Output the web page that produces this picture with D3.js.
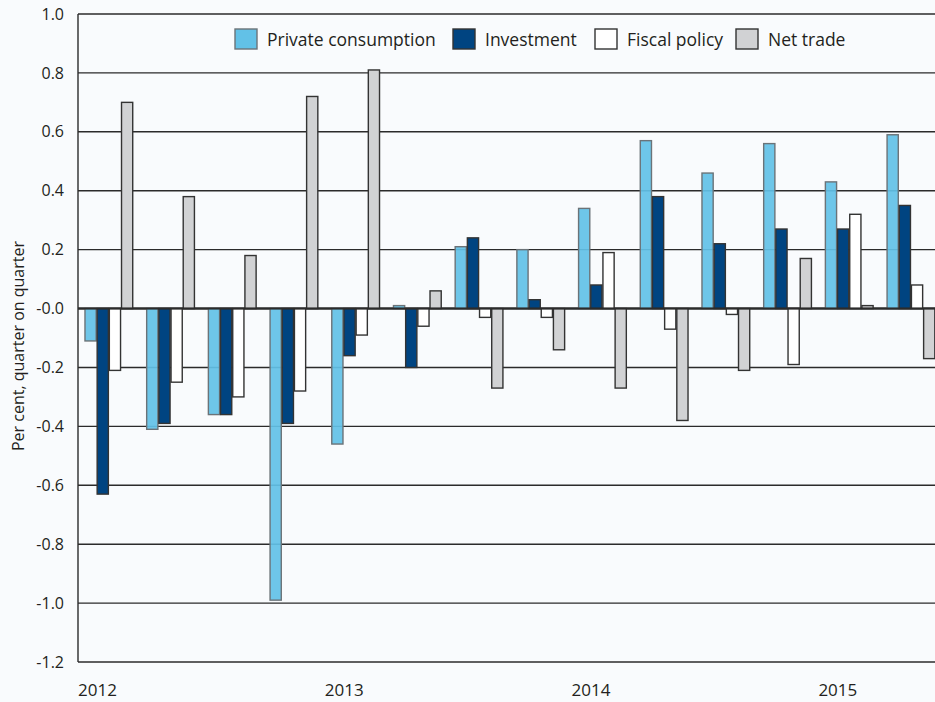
<!DOCTYPE html>
<html>
<head>
<meta charset="utf-8">
<script src="https://cdn.jsdelivr.net/npm/d3@7"></script>
<style>
  html, body { margin: 0; padding: 0; background: #f9fbfd; }
  svg { display: block; font-family: "Open Sans", "Noto Sans", sans-serif; }
</style>
</head>
<body>
<div id="app"></div>
<script>
// DATA
const quarters = ['2012Q1', '2012Q2', '2012Q3', '2012Q4',
                  '2013Q1', '2013Q2', '2013Q3', '2013Q4',
                  '2014Q1', '2014Q2', '2014Q3', '2014Q4',
                  '2015Q1', '2015Q2'];
const seriesNames = ['Private consumption', 'Investment', 'Fiscal policy', 'Net trade'];
const privateConsumption = [-0.11, -0.41, -0.36, -0.99, -0.46, 0.01, 0.21, 0.20, 0.34, 0.57, 0.46, 0.56, 0.43, 0.59];
const investment         = [-0.63, -0.39, -0.36, -0.39, -0.16, -0.20, 0.24, 0.03, 0.08, 0.38, 0.22, 0.27, 0.27, 0.35];
const fiscalPolicy       = [-0.21, -0.25, -0.30, -0.28, -0.09, -0.06, -0.03, -0.03, 0.19, -0.07, -0.02, -0.19, 0.32, 0.08];
const netTrade           = [0.70, 0.38, 0.18, 0.72, 0.81, 0.06, -0.27, -0.14, -0.27, -0.38, -0.21, 0.17, 0.01, -0.17];
const yearLabels = ['2012', '2013', '2014', '2015'];
const yTicks = [1.0, 0.8, 0.6, 0.4, 0.2, 0, -0.2, -0.4, -0.6, -0.8, -1.0, -1.2];

const allSeries = [privateConsumption, investment, fiscalPolicy, netTrade];
const fills   = ['#62c1e7', '#004481', '#ffffff', '#d1d2d4'];
const strokes = ['#6b7378', '#333333', '#333333', '#333333'];

// LAYOUT
const W = 935, H = 702;
const plotLeft = 78, plotTop = 14, plotBottom = 662;
const step = 61.7;

const $svg = d3.select('#app')
  .append('svg')
  .attr('width', W)
  .attr('height', H);

$svg.append('rect').attr('width', W).attr('height', H).attr('fill', '#f9fbfd');

const y = d3.scaleLinear().domain([-1.2, 1.0]).range([plotBottom, plotTop]);
const x = d3.scaleBand().domain(quarters).range([plotLeft, plotLeft + step * quarters.length]).paddingInner(0).paddingOuter(0);
const xInner = d3.scaleBand().domain(seriesNames).range([6, step - 6]).padding(0.08);

const fmt = d => d === 0 ? '-0.0' : d3.format('.1f')(d).replace('\u2212', '-');

// gridlines
$svg.append('g')
  .selectAll('line')
  .data(yTicks)
  .enter()
    .append('line')
    .attr('x1', plotLeft)
    .attr('x2', W)
    .attr('y1', d => y(d))
    .attr('y2', d => y(d))
    .attr('stroke', '#2b2b2b')
    .attr('stroke-width', d => d === 0 ? 2 : 1.4);

// left axis line
$svg.append('line')
  .attr('x1', plotLeft).attr('x2', plotLeft)
  .attr('y1', plotTop).attr('y2', plotBottom)
  .attr('stroke', '#2b2b2b')
  .attr('stroke-width', 1.4);

// bars
const $bars = $svg.append('g');
allSeries.forEach((vals, s) => {
  $bars.append('g')
    .selectAll('rect')
    .data(vals)
    .enter()
      .append('rect')
      .attr('x', (d, i) => x(quarters[i]) + xInner(seriesNames[s]))
      .attr('y', d => y(Math.max(0, d)))
      .attr('width', xInner.bandwidth())
      .attr('height', d => Math.abs(y(d) - y(0)))
      .attr('fill', fills[s])
      .attr('fill-opacity', s === 0 ? 0.92 : 1)
      .attr('stroke', strokes[s])
      .attr('stroke-width', 1.4);
});

// zero line on top
$svg.append('line')
  .attr('x1', plotLeft).attr('x2', W)
  .attr('y1', y(0)).attr('y2', y(0))
  .attr('stroke', '#2b2b2b')
  .attr('stroke-width', 2);

// y tick labels
$svg.append('g')
  .selectAll('text')
  .data(yTicks)
  .enter()
    .append('text')
    .attr('x', 64)
    .attr('y', d => y(d))
    .attr('dy', '0.35em')
    .attr('text-anchor', 'end')
    .attr('font-size', 16)
    .attr('fill', '#231f20')
    .text(fmt);

// year labels
$svg.append('g')
  .selectAll('text')
  .data(yearLabels)
  .enter()
    .append('text')
    .attr('x', (d, i) => x(quarters[i * 4]))
    .attr('y', 696)
    .attr('font-size', 17)
    .attr('fill', '#231f20')
    .text(d => d);

// y axis title
$svg.append('text')
  .attr('transform', 'translate(24,' + ((plotTop + plotBottom) / 2 + 8) + ') rotate(-90)')
  .attr('text-anchor', 'middle')
  .attr('font-size', 16)
  .attr('fill', '#231f20')
  .text('Per cent, quarter on quarter');

// legend
const legendX = [235, 453, 595, 736];
const $legend = $svg.append('g');
seriesNames.forEach((name, s) => {
  $legend.append('rect')
    .attr('x', legendX[s])
    .attr('y', 29)
    .attr('width', 22)
    .attr('height', 20)
    .attr('fill', fills[s])
    .attr('stroke', s === 0 ? '#6b7378' : '#333')
    .attr('stroke-width', 1.4);
  $legend.append('text')
    .attr('x', legendX[s] + 32)
    .attr('y', 40)
    .attr('dy', '0.35em')
    .attr('font-size', 17.5)
    .attr('fill', '#231f20')
    .text(name);
});
</script>
</body>
</html>
